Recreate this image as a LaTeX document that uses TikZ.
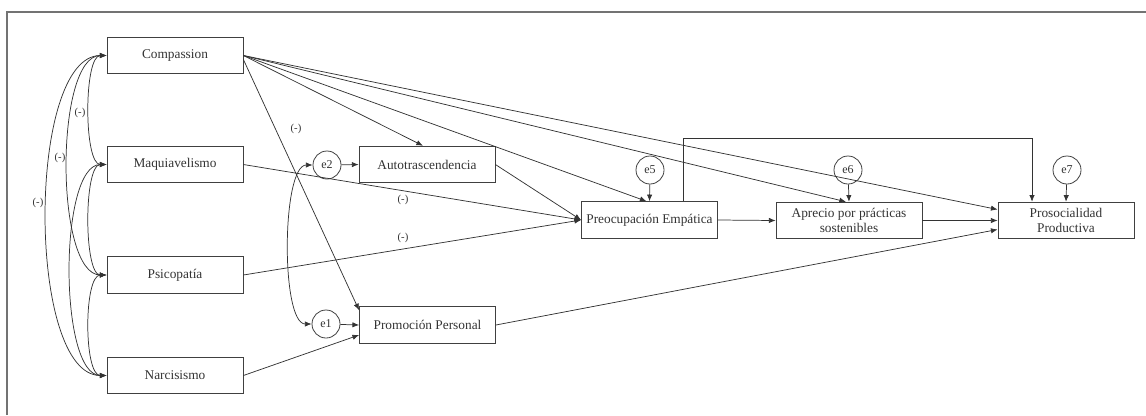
\documentclass[tikz,border=0pt]{standalone}
\usepackage{fontspec}
\setmainfont{Liberation Serif}
\usetikzlibrary{arrows.meta,calc}
\begin{document}
\begin{tikzpicture}[x=0.75pt,y=-0.75pt,
  box/.style={draw=black!75, line width=0.6pt, minimum width=102pt, minimum height=27.5pt, inner sep=1pt, font=\fontsize{10}{11.5}\selectfont, text=black!80, align=center},
  err/.style={draw=black!75, circle, line width=0.6pt, minimum size=21pt, inner sep=0pt, font=\fontsize{9}{10}\selectfont, text=black!80},
  arr/.style={-{Latex[length=5pt,width=4pt]}, draw=black!80, line width=0.55pt},
  cov/.style={{Latex[length=5pt,width=4pt]}-{Latex[length=5pt,width=4pt]}, draw=black!80, line width=0.55pt},
  lbl/.style={font=\fontsize{8}{9}\selectfont, text=black!80, inner sep=1pt}]
\useasboundingbox (0,0) rectangle (1146,415);
\draw[black!55, line width=0.8pt] (7,415) -- (7,12) -- (1146,12);

% observed / latent boxes
\node[box] (comp) at (175,55.5) {Compassion};
\node[box] (maq) at (175,164.5) {Maquiavelismo};
\node[box] (psi) at (175,275) {Psicopatía};
\node[box] (narc) at (175,375.5) {Narcisismo};
\node[box] (auto) at (427,164.5) {Autotrascendencia};
\node[box] (prom) at (427.5,325) {Promoción Personal};
\node[box] (pe) at (649.5,220) {Preocupación Empática};
\node[box, minimum width=109.5pt] (apr) at (849,220.5) {Aprecio por prácticas\\sostenibles};
\node[box] (pro) at (1066,220.5) {Prosocialidad\\Productiva};

% error terms
\node[err] (e2) at (327,165) {e2};
\node[err] (e1) at (326,324) {e1};
\node[err] (e5) at (650,170) {e5};
\node[err] (e6) at (848,170) {e6};
\node[err] (e7) at (1067,170) {e7};

% covariances among exogenous variables
\draw[cov] (comp.west) .. controls +(-23,0) and +(-23,0) .. (maq.west);
\draw[cov] (comp.west) .. controls +(-52,0) and +(-52,0) .. (psi.west);
\draw[cov] (comp.west) .. controls +(-80,0) and +(-80,0) .. (narc.west);
\draw[cov] (maq.west) .. controls +(-23,0) and +(-23,0) .. (psi.west);
\draw[cov] (maq.west) .. controls +(-48,0) and +(-48,0) .. (narc.west);
\draw[cov] (psi.west) .. controls +(-23,0) and +(-23,0) .. (narc.west);
\node[lbl] (l1) at (80,113) {(-)};
\node[lbl] (l2) at (60,158) {(-)};
\node[lbl] (l3) at (38,203) {(-)};

% error covariance
\draw[cov] (e2.west) .. controls +(-31,0) and +(-31,0) .. (e1.west);

% paths from Compassion
\draw[arr] (comp.east) -- ($(auto.north)+(-4,0)$);
\draw[arr] (comp.east) -- ($(pe.north)+(-3,0)$);
\draw[arr] (comp.east) -- ($(apr.north)+(-3,0)$);
\draw[arr] (comp.east) -- ($(pro.west)+(0,-11)$);
\draw[arr] ($(comp.east)+(0,4)$) -- ($(prom.north west)+(0,4)$);
\node[lbl] (l4) at (296,129) {(-)};

% other paths
\draw[arr] (maq.east) -- (pe.west);
\node[lbl] (l5) at (403,200) {(-)};
\draw[arr] (psi.east) -- (pe.west);
\node[lbl] (l6) at (403,238) {(-)};
\draw[arr] (auto.east) -- (pe.west);
\draw[arr] (narc.east) -- ($(prom.west)+(0,10)$);
\draw[arr] (e1) -- (prom.west);
\draw[arr] (e2) -- (auto.west);
\draw[arr] (e5) -- (pe.north);
\draw[arr] (e6) -- (apr.north);
\draw[arr] (e7) -- (pro.north);
\draw[arr] (pe.east) -- (apr.west);
\draw[arr] (apr.east) -- (pro.west);
\draw[arr] (prom.east) -- ($(pro.west)+(0,9)$);
\coordinate (bend) at (1032,138);
\draw[arr] ($(pe.north)+(33.5,0)$) |- (bend) -- ($(pro.north)+(-34,0)$);
\end{tikzpicture}
\end{document}
